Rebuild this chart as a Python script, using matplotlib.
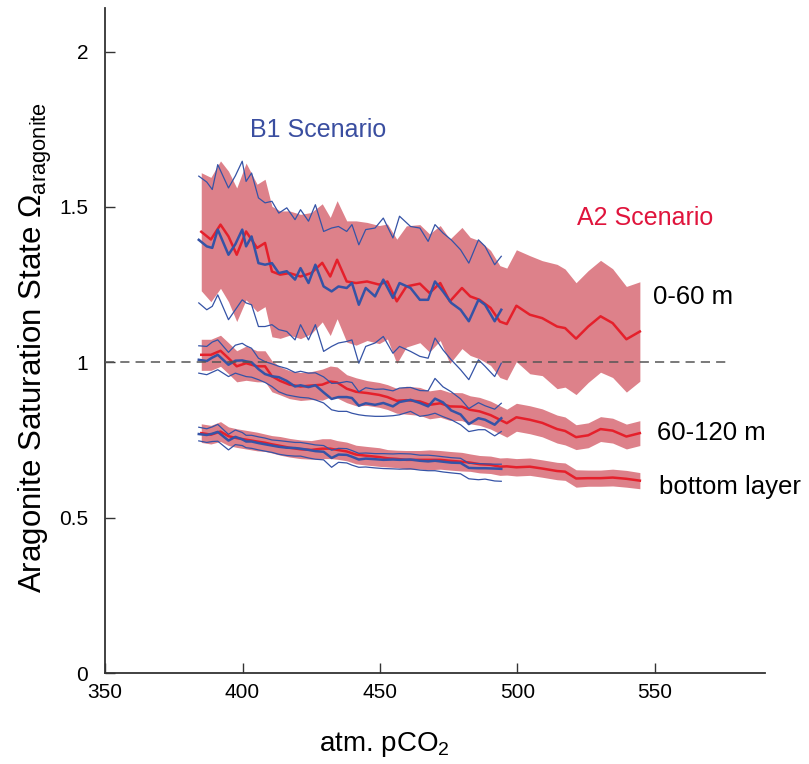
import numpy as np
import matplotlib
matplotlib.use("Agg")
import matplotlib.pyplot as plt

plt.rcParams['font.family'] = ['Liberation Sans', 'DejaVu Sans']
plt.rcParams['mathtext.fontset'] = 'custom'
plt.rcParams['mathtext.rm'] = 'Liberation Sans'
plt.rcParams['mathtext.it'] = 'Liberation Sans:italic'

# ---------------------------------------------------------------------
# data (atm. pCO2 in ppm, saturation state)
# ---------------------------------------------------------------------
# A2 scenario (red): ensemble mean and spread (+/- 1 sd)
a2_pco2 = [385.0, 388.5, 392.0, 394.9, 397.9, 401.3, 405.3, 408.2, 410.7, 413.7,
           417.1, 421.1, 425.0, 429.0, 431.9, 434.4, 437.9, 441.3, 445.3, 449.7,
           452.7, 456.1, 459.6, 464.5, 468.0, 471.9, 475.4, 479.8, 482.8, 486.2,
           490.2, 493.6, 496.1, 499.6, 504.5, 509.0, 514.4, 517.3, 521.3, 525.7,
           530.2, 534.6, 539.6, 544.5]

a2_top = [1.42, 1.395, 1.443, 1.405, 1.346, 1.421, 1.368, 1.384, 1.292, 1.282,
          1.287, 1.276, 1.287, 1.320, 1.276, 1.330, 1.260, 1.255, 1.260, 1.250,
          1.260, 1.196, 1.244, 1.253, 1.223, 1.255, 1.196, 1.239, 1.212, 1.201,
          1.175, 1.131, 1.123, 1.182, 1.153, 1.142, 1.115, 1.110, 1.076, 1.115,
          1.148, 1.126, 1.074, 1.099]
a2_top_sd = [0.19, 0.20, 0.205, 0.21, 0.215, 0.22, 0.205, 0.205, 0.21, 0.205,
             0.2, 0.2, 0.195, 0.19, 0.19, 0.19, 0.195, 0.2, 0.19, 0.19,
             0.185, 0.2, 0.195, 0.19, 0.19, 0.185, 0.2, 0.195, 0.19, 0.19,
             0.185, 0.18, 0.18, 0.18, 0.19, 0.185, 0.2, 0.19, 0.18, 0.18,
             0.18, 0.175, 0.17, 0.16]

a2_mid = [1.024, 1.024, 1.037, 1.013, 0.987, 0.997, 0.987, 0.987, 0.955, 0.94,
          0.928, 0.922, 0.925, 0.928, 0.938, 0.935, 0.915, 0.905, 0.901, 0.895,
          0.888, 0.876, 0.878, 0.874, 0.863, 0.868, 0.858, 0.857, 0.847, 0.842,
          0.83, 0.815, 0.804, 0.823, 0.815, 0.805, 0.785, 0.779, 0.759, 0.765,
          0.785, 0.780, 0.761, 0.772]
a2_mid_sd = [0.05, 0.05, 0.05, 0.05, 0.05, 0.055, 0.05, 0.05, 0.05, 0.045,
             0.045, 0.045, 0.045, 0.05, 0.05, 0.05, 0.045, 0.045, 0.04, 0.04,
             0.04, 0.04, 0.045, 0.045, 0.045, 0.045, 0.045, 0.045, 0.045, 0.045,
             0.045, 0.045, 0.045, 0.045, 0.045, 0.045, 0.045, 0.045, 0.04, 0.04,
             0.04, 0.04, 0.04, 0.04]

a2_bot = [0.772, 0.767, 0.777, 0.762, 0.756, 0.751, 0.745, 0.741, 0.736, 0.731,
          0.725, 0.720, 0.718, 0.722, 0.722, 0.718, 0.713, 0.703, 0.699, 0.695,
          0.691, 0.689, 0.686, 0.686, 0.686, 0.686, 0.683, 0.680, 0.677, 0.672,
          0.670, 0.664, 0.665, 0.662, 0.664, 0.658, 0.650, 0.648, 0.626, 0.627,
          0.627, 0.629, 0.625, 0.619]
a2_bot_sd = [0.03, 0.03, 0.032, 0.03, 0.03, 0.03, 0.03, 0.028, 0.028, 0.03,
             0.03, 0.03, 0.03, 0.032, 0.032, 0.03, 0.03, 0.03, 0.03, 0.03,
             0.028, 0.028, 0.03, 0.03, 0.032, 0.03, 0.03, 0.03, 0.028, 0.028,
             0.028, 0.028, 0.028, 0.028, 0.028, 0.028, 0.028, 0.028, 0.028, 0.026,
             0.026, 0.027, 0.027, 0.026]

# B1 scenario (blue): mean, upper and lower lines
b1_pco2 = [384.1, 387.0, 389.0, 391.0, 394.9, 397.4, 399.9, 401.3, 403.3, 405.8,
           408.2, 410.7, 413.2, 416.1, 419.1, 421.1, 424.0, 426.5, 429.5, 432.4,
           434.9, 437.9, 439.8, 442.3, 444.8, 448.2, 451.2, 454.7, 457.1, 461.1,
           464.5, 467.5, 470.0, 472.9, 475.9, 479.3, 482.3, 485.8, 488.2, 491.7,
           494.1]

b1_top = [1.394, 1.373, 1.368, 1.427, 1.346, 1.38, 1.427, 1.373, 1.405, 1.319,
          1.314, 1.319, 1.287, 1.293, 1.266, 1.303, 1.255, 1.314, 1.244, 1.228,
          1.244, 1.239, 1.255, 1.185, 1.239, 1.212, 1.266, 1.207, 1.255, 1.239,
          1.201, 1.201, 1.260, 1.228, 1.191, 1.169, 1.132, 1.201, 1.185, 1.132,
          1.169]
b1_top_hi = [1.599, 1.58, 1.556, 1.636, 1.561, 1.60, 1.647, 1.582, 1.609, 1.529,
             1.513, 1.518, 1.480, 1.497, 1.459, 1.491, 1.454, 1.507, 1.421, 1.432,
             1.437, 1.421, 1.443, 1.378, 1.427, 1.432, 1.464, 1.400, 1.470, 1.437,
             1.432, 1.389, 1.443, 1.416, 1.394, 1.362, 1.319, 1.394, 1.373, 1.314,
             1.341]
b1_top_lo = [1.191, 1.169, 1.180, 1.217, 1.137, 1.169, 1.201, 1.191, 1.185, 1.115,
             1.115, 1.121, 1.105, 1.099, 1.072, 1.121, 1.072, 1.121, 1.035, 1.051,
             1.062, 1.067, 1.072, 0.997, 1.051, 1.062, 1.083, 1.029, 1.051, 1.035,
             1.019, 1.013, 1.078, 1.040, 1.008, 0.976, 0.944, 1.008, 0.987, 0.954,
             0.997]

b1_mid = [1.008, 1.004, 1.015, 1.024, 0.992, 1.005, 1.006, 1.003, 1.000, 0.978,
          0.962, 0.955, 0.952, 0.940, 0.922, 0.926, 0.920, 0.926, 0.903, 0.882,
          0.888, 0.888, 0.885, 0.860, 0.868, 0.863, 0.869, 0.858, 0.872, 0.879,
          0.869, 0.858, 0.883, 0.871, 0.845, 0.832, 0.801, 0.820, 0.815, 0.799,
          0.820]
b1_mid_hi = [1.053, 1.051, 1.065, 1.072, 1.032, 1.055, 1.061, 1.053, 1.045, 1.013,
             1.002, 0.995, 0.987, 0.980, 0.967, 0.971, 0.965, 0.966, 0.953, 0.932,
             0.933, 0.938, 0.935, 0.905, 0.918, 0.913, 0.914, 0.908, 0.917, 0.919,
             0.909, 0.908, 0.948, 0.921, 0.905, 0.882, 0.851, 0.870, 0.860, 0.849,
             0.868]
b1_mid_lo = [0.965, 0.960, 0.968, 0.976, 0.954, 0.965, 0.958, 0.954, 0.952, 0.944,
             0.935, 0.922, 0.905, 0.895, 0.890, 0.887, 0.885, 0.879, 0.869, 0.847,
             0.842, 0.842, 0.836, 0.831, 0.828, 0.826, 0.826, 0.828, 0.831, 0.842,
             0.826, 0.830, 0.836, 0.825, 0.815, 0.799, 0.777, 0.783, 0.783, 0.763,
             0.777]

b1_bot = [0.769, 0.766, 0.770, 0.776, 0.748, 0.760, 0.752, 0.745, 0.745, 0.740,
          0.736, 0.732, 0.728, 0.725, 0.724, 0.722, 0.718, 0.714, 0.712, 0.692,
          0.703, 0.702, 0.696, 0.687, 0.690, 0.688, 0.686, 0.687, 0.686, 0.687,
          0.683, 0.681, 0.683, 0.680, 0.677, 0.676, 0.660, 0.659, 0.659, 0.658,
          0.657]
b1_bot_hi = [0.791, 0.786, 0.792, 0.800, 0.768, 0.782, 0.774, 0.765, 0.765, 0.760,
             0.756, 0.750, 0.748, 0.745, 0.742, 0.742, 0.738, 0.734, 0.732, 0.717,
             0.723, 0.722, 0.716, 0.707, 0.708, 0.706, 0.706, 0.705, 0.706, 0.705,
             0.701, 0.701, 0.699, 0.696, 0.693, 0.691, 0.675, 0.674, 0.673, 0.672,
             0.672]
b1_bot_lo = [0.747, 0.742, 0.745, 0.746, 0.718, 0.735, 0.732, 0.725, 0.723, 0.718,
             0.714, 0.710, 0.704, 0.700, 0.698, 0.698, 0.692, 0.688, 0.686, 0.662,
             0.678, 0.676, 0.669, 0.662, 0.663, 0.660, 0.658, 0.657, 0.656, 0.657,
             0.653, 0.651, 0.651, 0.647, 0.644, 0.641, 0.625, 0.622, 0.624, 0.618,
             0.617]

x_ticks = [350, 400, 450, 500, 550]
y_ticks = [0, 0.5, 1, 1.5, 2]
y_tick_labels = ['0', '0.5', '1', '1.5', '2']

RED = '#e5202b'
BAND = '#dd818a'
BLUE = '#3553a6'

# ---------------------------------------------------------------------
fig = plt.figure(figsize=(8.09, 7.64), dpi=100)
ax = fig.add_axes([0.1298, 0.1191, 0.8158, 0.8704])

x_a2 = np.array(a2_pco2)
for mean, sd in ((a2_top, a2_top_sd), (a2_mid, a2_mid_sd), (a2_bot, a2_bot_sd)):
    m = np.array(mean)
    s = np.array(sd)
    ax.fill_between(x_a2, m - s, m + s, color=BAND, linewidth=0, zorder=1)
for mean in (a2_top, a2_mid, a2_bot):
    ax.plot(x_a2, mean, color=RED, linewidth=1.8, zorder=2)

for mean, hi, lo in ((b1_top, b1_top_hi, b1_top_lo),
                     (b1_mid, b1_mid_hi, b1_mid_lo),
                     (b1_bot, b1_bot_hi, b1_bot_lo)):
    ax.plot(b1_pco2, hi, color=BLUE, linewidth=0.9, zorder=3)
    ax.plot(b1_pco2, lo, color=BLUE, linewidth=0.9, zorder=3)
    ax.plot(b1_pco2, mean, color=BLUE, linewidth=1.8, zorder=4)

# saturation horizon
ax.plot([350, 577.3], [1, 1], color='#555555', linewidth=1.1,
        dashes=(6, 4), zorder=5)

ax.text(427.5, 1.749, 'B1 Scenario', color='#3a4ea0', fontsize=18,
        ha='center', va='center')
ax.text(546.4, 1.465, 'A2 Scenario', color='#e0143c', fontsize=18,
        ha='center', va='center')
ax.text(549.3, 1.211, '0-60 m', fontsize=18.5, ha='left', va='center')
ax.text(550.7, 0.773, '60-120 m', fontsize=18.5, ha='left', va='center')
ax.text(551.5, 0.599, 'bottom layer', fontsize=18.5, ha='left', va='center')

ax.set_xlim(350, 590)
ax.set_ylim(0, 2.14)
ax.set_xticks(x_ticks)
ax.set_yticks(y_ticks)
ax.set_yticklabels(y_tick_labels)
ax.tick_params(direction='in', length=7, width=1, labelsize=15,
               color='#333333')
ax.tick_params(axis='y', pad=12)
ax.tick_params(axis='x', pad=7)
for side in ('top', 'right'):
    ax.spines[side].set_visible(False)
for side in ('left', 'bottom'):
    ax.spines[side].set_color('#333333')
    ax.spines[side].set_linewidth(1.3)

ax.set_xlabel(r'atm. pCO$_2$', fontsize=20)
ax.xaxis.set_label_coords(0.423, -0.085)
ax.set_ylabel(r'Aragonite Saturation State $\Omega_{\mathrm{aragonite}}$',
              fontsize=22.5)
ax.yaxis.set_label_coords(-0.078, 0.49)

fig.savefig('out.png', dpi=100)
